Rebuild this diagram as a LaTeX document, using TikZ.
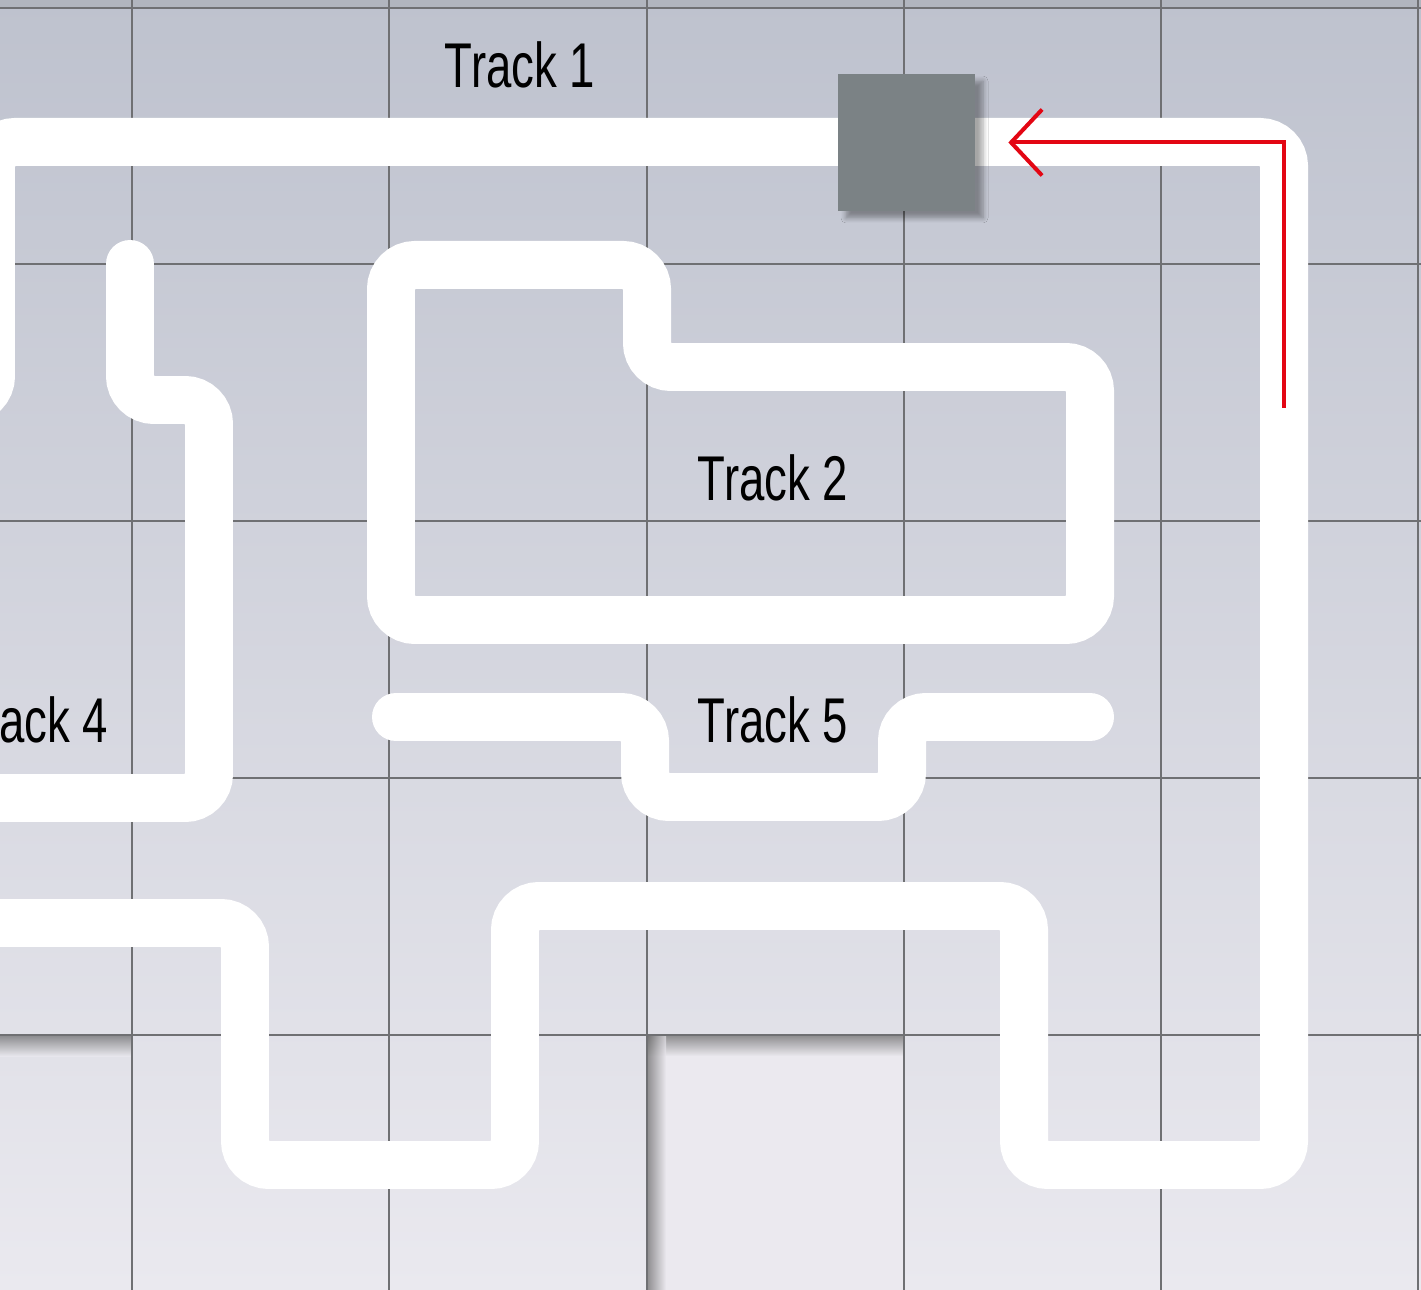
\documentclass[tikz,border=0pt]{standalone}
\usepackage{fontspec}
\setmainfont{Liberation Sans}[FakeStretch=0.72]
\usepackage{tikz}
\usetikzlibrary{arrows.meta,positioning,shadows.blur}

\definecolor{bgtop}{HTML}{BEC2CE}
\definecolor{bgmid}{HTML}{D6D9E0}
\definecolor{bgbot}{HTML}{EAE9EF}
\definecolor{gridgray}{HTML}{6F7073}
\definecolor{carriergray}{HTML}{7B8285}
\definecolor{routered}{HTML}{E30613}
\definecolor{recess}{HTML}{EBE9EF}

\begin{document}
\begin{tikzpicture}[
    x=0.02cm, y=-0.02cm,
    track/.style={draw=white, line width=0.96cm, rounded corners=0.48cm},
    trackend/.style={track, line cap=round},
    gridline/.style={draw=gridgray, line width=0.045cm},
    label/.style={font=\fontsize{36}{40}\selectfont, text=black, inner sep=0pt},
    routearrow/.style={draw=routered, line width=0.08cm, -{Straight Barb[length=0.62cm, width=1.32cm, line width=0.08cm]}},
    carrierbox/.style={fill=carriergray, minimum size=2.74cm, inner sep=0pt,
        blur shadow={shadow xshift=0.16cm, shadow yshift=-0.14cm, shadow blur radius=0.1cm,
            shadow blur steps=6, shadow opacity=35}}
]
\useasboundingbox (0,0) rectangle (1421,1290);
\clip (0,0) rectangle (1421,1290);

% floor
\shade[top color=bgtop, middle color=bgmid, bottom color=bgbot] (0,0) rectangle (1421,1290);
\fill[bgtop!80!gray] (0,0) rectangle (1421,7);

% recessed cells
\fill[recess] (647,1035) rectangle (904,1290);
\shade[top color=black!60, bottom color=recess, opacity=0.7] (647,1035) rectangle (904,1056);
\shade[left color=black!60, right color=recess, opacity=0.7] (647,1035) rectangle (666,1290);
\shade[top color=black!60, bottom color=bgbot, opacity=0.7] (0,1035) rectangle (132,1056);

% grid
\foreach \gx in {132,389,647,904,1161,1418}
    \draw[gridline] (\gx,0) -- (\gx,1290);
\foreach \gy in {8,264,521,778,1035}
    \draw[gridline] (0,\gy) -- (1421,\gy);

% tracks
\draw[track] (-100,400) -- (-9,400) -- (-9,142) -- (1284,142) -- (1284,1165) -- (1024,1165)
    -- (1024,906) -- (515,906) -- (515,1165) -- (245,1165) -- (245,923) -- (-100,923);
\draw[trackend] (130,264) -- (130,400) -- (209,400) -- (209,798) -- (-100,798);
\draw[track] (500,265) -- (647,265) -- (647,367) -- (1090,367) -- (1090,620) -- (391,620)
    -- (391,265) -- cycle;
\draw[trackend] (396,717) -- (645,717) -- (645,797) -- (902,797) -- (902,717) -- (1090,717);

\node[label] (t1) at (520,65) {Track 1};
\node[label] (t2) at (773,478) {Track 2};
\node[label] (t4) at (33,720) {Track 4};
\node[label] (t5) at (773,720) {Track 5};

% carrier and direction
\node[carrierbox] (carrier) at (906.5,142.5) {};
\coordinate (routestart) at (1284,408);
\draw[routearrow] (routestart) |- ([xshift=0.66cm]carrier.east);
\end{tikzpicture}
\end{document}
